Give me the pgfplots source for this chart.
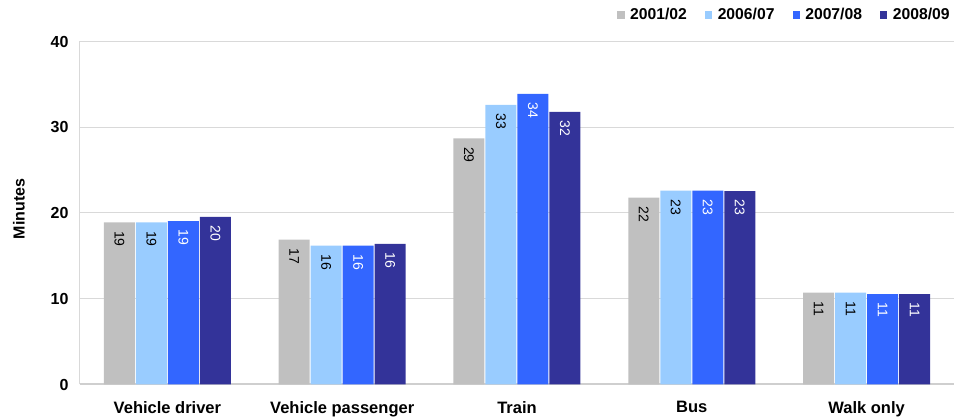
\documentclass[border=0pt]{standalone}
\usepackage{fontspec}
\setmainfont{Liberation Sans}
\usepackage{pgfplots}
\usepackage{pgfplotstable}
\pgfplotsset{compat=1.18}

\definecolor{yrA}{HTML}{C0C0C0}
\definecolor{yrB}{HTML}{99CCFF}
\definecolor{yrC}{HTML}{3366FF}
\definecolor{yrD}{HTML}{333399}
\definecolor{gridgray}{HTML}{D9D9D9}
\definecolor{axisgray}{HTML}{CFCFCF}

% Average journey time (minutes) by main mode
\pgfplotstableread{
idx  y0102  y0607  y0708  y0809
0    18.9   18.9   19.05  19.56
1    16.9   16.2   16.2   16.4
2    28.7   32.6   33.9   31.8
3    21.8   22.6   22.6   22.55
4    10.7   10.7   10.55  10.55
}\journeytimes

\begin{document}
\begin{tikzpicture}
\useasboundingbox (-80pt,-34.7pt) rectangle (882pt,384.5pt);
\begin{axis}[
  ybar=1pt,
  bar width=31pt,
  at={(0,0)}, anchor=south west,
  scale only axis,
  width=874pt, height=343pt,
  xmin=-0.5, xmax=4.5,
  ymin=0, ymax=40,
  xtick={0,1,2,3,4},
  xticklabels={Vehicle driver, Vehicle passenger, Train, Bus, Walk only},
  ytick={0,10,20,30,40},
  major tick length=0pt,
  tick style={draw=none},
  axis x line*=bottom,
  axis y line*=left,
  x axis line style={draw=axisgray, line width=2pt, -},
  y axis line style={draw=gridgray, line width=1pt, -},
  ymajorgrids,
  grid style={draw=gridgray, line width=1pt},
  /pgf/number format/assume math mode=true,
  yticklabel style={font=\bfseries\fontsize{16}{16}\selectfont, xshift=-8pt},
  xticklabel style={font=\bfseries\fontsize{16.5}{16.5}\selectfont, yshift=-13.5pt},
  ylabel={Minutes},
  every axis y label/.style={at={(axis description cs:-0.0698,0.5117)}, rotate=90, anchor=center, font=\bfseries\fontsize{16}{16}\selectfont},
  nodes near coords,
  every node near coord/.append style={rotate=-90, anchor=west, inner xsep=8.5pt, inner ysep=0pt,
    font=\fontsize{14}{14}\selectfont,
    /pgf/number format/fixed, /pgf/number format/precision=0},
  legend columns=4,
  legend image code/.code={\fill[#1] (0pt,-3.6pt) rectangle (7.3pt,3.6pt);},
  legend style={at={(axis description cs:0.9975,1.0773)}, anchor=east, draw=none, fill=none,
    inner sep=0pt, font=\bfseries\fontsize{15.7}{15.7}\selectfont,
    /tikz/every odd column/.append style={column sep=3.5pt},
    /tikz/every even column/.append style={column sep=16pt}},
]
\addplot[fill=yrA, draw=none, every node near coord/.append style={black}]
  table[x=idx, y=y0102] {\journeytimes};
\addplot[fill=yrB, draw=none, every node near coord/.append style={black}]
  table[x=idx, y=y0607] {\journeytimes};
\addplot[fill=yrC, draw=none, every node near coord/.append style={white}]
  table[x=idx, y=y0708] {\journeytimes};
\addplot[fill=yrD, draw=none, every node near coord/.append style={white}]
  table[x=idx, y=y0809] {\journeytimes};
\legend{2001/02, 2006/07, 2007/08, 2008/09}
\end{axis}
\end{tikzpicture}
\end{document}
